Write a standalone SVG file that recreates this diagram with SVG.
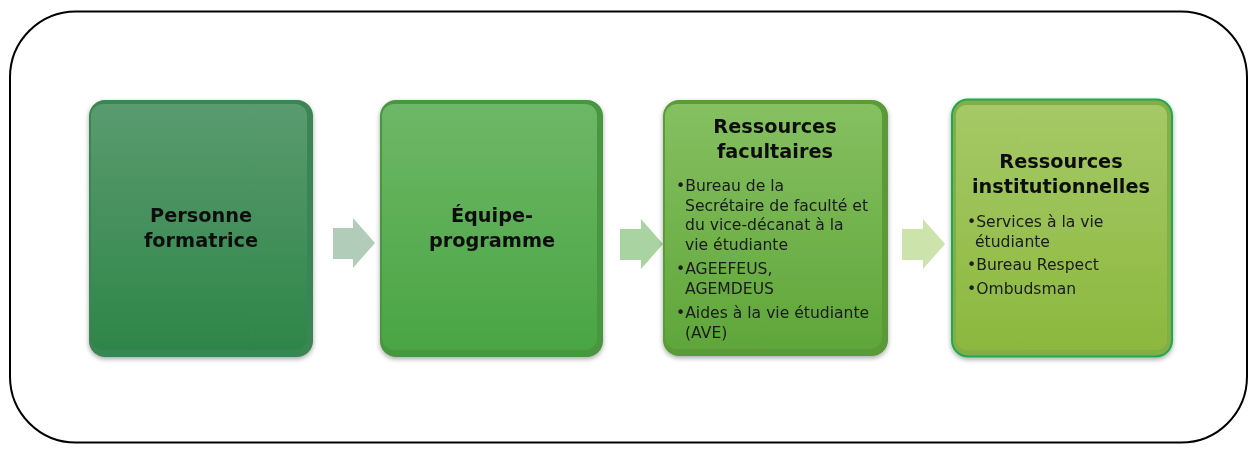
<svg xmlns="http://www.w3.org/2000/svg" width="1258" height="453" viewBox="0 0 1258 453">
<defs>
<linearGradient id="g1" x1="0" y1="0" x2="0" y2="1"><stop offset="0" stop-color="#5a9b6e"/><stop offset="1" stop-color="#2e8549"/></linearGradient>
<linearGradient id="g2" x1="0" y1="0" x2="0" y2="1"><stop offset="0" stop-color="#6db767"/><stop offset="1" stop-color="#4aa543"/></linearGradient>
<linearGradient id="g3" x1="0" y1="0" x2="0" y2="1"><stop offset="0" stop-color="#86c060"/><stop offset="1" stop-color="#5fa63a"/></linearGradient>
<linearGradient id="g4" x1="0" y1="0" x2="0" y2="1"><stop offset="0" stop-color="#a5c967"/><stop offset="1" stop-color="#8cb83e"/></linearGradient>
<filter id="sh" x="-10%" y="-10%" width="120%" height="120%"><feGaussianBlur in="SourceAlpha" stdDeviation="2.5"/><feOffset dx="0" dy="2"/><feComponentTransfer><feFuncA type="linear" slope="0.35"/></feComponentTransfer><feMerge><feMergeNode/><feMergeNode in="SourceGraphic"/></feMerge></filter>
</defs>
<style>
.title{font-family:"DejaVu Sans",sans-serif;font-weight:bold;font-size:19.3px;fill:#111;text-anchor:middle}
.item{font-family:"DejaVu Sans",sans-serif;font-size:15.6px;fill:#1a1a1a}
</style>
<rect x="10" y="11.5" width="1237" height="431" rx="66" fill="#fff" stroke="#000" stroke-width="2"/>
<g id="connectors">
<polygon points="333,228 353,228 353,218 375,243 353,268 353,259 333,259" fill="#b1cdb9"/>
<polygon points="620,229 641,229 641,219 663,244 641,269 641,260 620,260" fill="#a9d4a1"/>
<polygon points="902,229 923,229 923,219 945,244 923,269 923,260 902,260" fill="#cde3ac"/>
</g>
<g id="node1" filter="url(#sh)">
<rect x="89" y="100" width="224" height="257" rx="16" fill="#3a8453"/>
<rect x="91" y="104" width="216" height="246" rx="12" fill="url(#g1)"/>
<text class="title" x="201" y="222">Personne</text>
<text class="title" x="201" y="247">formatrice</text>
</g>
<g id="node2" filter="url(#sh)">
<rect x="380" y="100" width="223" height="257" rx="16" fill="#48963f"/>
<rect x="382" y="104" width="215" height="246" rx="12" fill="url(#g2)"/>
<text class="title" x="492" y="222">Équipe-</text>
<text class="title" x="492" y="247">programme</text>
</g>
<g id="node3" filter="url(#sh)">
<rect x="663" y="100" width="225" height="256" rx="16" fill="#5a9a38"/>
<rect x="665" y="104" width="217" height="245" rx="12" fill="url(#g3)"/>
<text class="title" x="775" y="133">Ressources</text>
<text class="title" x="775" y="158">facultaires</text>
<text class="item" x="676" y="191">•Bureau de la</text>
<text class="item" x="685" y="210.5">Secrétaire de faculté et</text>
<text class="item" x="685" y="230">du vice-décanat à la</text>
<text class="item" x="685" y="249.5">vie étudiante</text>
<text class="item" x="676" y="274">•AGEEFEUS,</text>
<text class="item" x="685" y="293.5">AGEMDEUS</text>
<text class="item" x="676" y="318">•Aides à la vie étudiante</text>
<text class="item" x="685" y="337.5">(AVE)</text>
</g>
<g id="node4" filter="url(#sh)">
<rect x="952" y="99.5" width="220" height="257" rx="16" fill="#83ad46" stroke="#1faa50" stroke-width="2"/>
<rect x="956" y="105" width="211" height="245" rx="10" fill="url(#g4)"/>
<text class="title" x="1061" y="168">Ressources</text>
<text class="title" x="1061" y="193">institutionnelles</text>
<text class="item" x="967" y="227">•Services à la vie</text>
<text class="item" x="975" y="247">étudiante</text>
<text class="item" x="967" y="270">•Bureau Respect</text>
<text class="item" x="967" y="294">•Ombudsman</text>
</g>
</svg>
